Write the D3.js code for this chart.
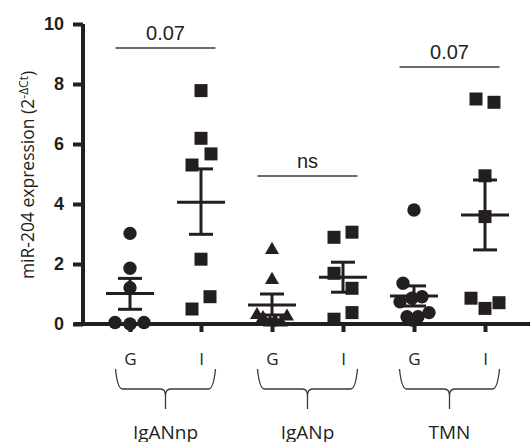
<!DOCTYPE html>
<html>
<head>
<meta charset="utf-8">
<script src="https://cdn.jsdelivr.net/npm/d3@7"></script>
<style>
    body { margin: 0; background: #fff; }
    svg { display: block; }
    .y-axis text { font-family: "Liberation Sans", Arial, sans-serif; font-weight: bold; font-size: 18px; fill: #231f20; }
    .x-axis text { font-family: "Open Sans", sans-serif; font-size: 17px; fill: #231f20; }
    .group-label { font-family: "Open Sans", sans-serif; font-size: 19px; fill: #231f20; }
    .sig-text { font-family: "Liberation Sans", Arial, sans-serif; font-size: 20px; fill: #231f20; }
    .y-label { font-family: "Open Sans", sans-serif; font-size: 17.5px; fill: #231f20; }
</style>
</head>
<body>
<div id="chart"></div>
<script>
// categories on the x axis (group, condition)
const groups = ["IgANnp", "IgANp", "TMN"];
const conditions = ["G", "I"];
const categoryKeys = ["IgANnp-G", "IgANnp-I", "IgANp-G", "IgANp-I", "TMN-G", "TMN-I"];
const categoryShapes = ["circle", "square", "triangle", "square", "circle", "square"];

// individual values (2^-dCt)
const igannpG = [3.02, 1.86, 1.21, 0.05, 0.0, 0.05];
const igannpI = [7.78, 6.19, 5.67, 5.30, 2.16, 0.91, 0.50];
const iganpG = [2.47, 1.47, 0.30, 0.20, 0.05, 0.10, 0.05, 0.25];
const iganpI = [2.89, 3.06, 1.69, 1.19, 0.38, 0.16];
const tmnG = [3.80, 1.36, 0.74, 0.86, 0.91, 0.24, 0.24, 0.38, 0.13];
const tmnI = [7.50, 7.39, 4.94, 3.58, 0.86, 0.52, 0.71];
const pointValues = [igannpG, igannpI, iganpG, iganpI, tmnG, tmnI];

// horizontal scatter of the dots (px), so that overlapping points stay visible
const jitter = [
    [0, 0, 0, -15, 0, 14],
    [0, 0, 10, -9, 0, 9, -9],
    [0, 0, -15, -9, -2, 3, 9, 15],
    [-9, 9, -9, 9, 9, -9],
    [0, -11, -14, -2, 8, -7, 4, 15, -2],
    [-9, 9, 0, 0, -14, 0, 14]
];

// mean and SEM bars
const means = [1.02, 4.06, 0.63, 1.56, 0.93, 3.63];
const semLow = [0.49, 2.99, 0.30, 1.06, 0.60, 2.47];
const semHigh = [1.52, 5.17, 1.00, 2.06, 1.27, 4.80];

// significance annotations, one per group
const sigLabels = ["0.07", "ns", "0.07"];
const sigLevels = [9.2, 4.93, 8.57];

const yTicks = [0, 2, 4, 6, 8, 10];

const width = 530, height = 442;
const ink = "#231f20";

let svg = d3.select("#chart").append("svg").attr("width", width).attr("height", height);

let x = d3.scalePoint().domain(categoryKeys).range([130, 485]);
let y = d3.scaleLinear().domain([0, 10]).range([324, 24]);

// y axis
let yAxis = svg.append("g").attr("class", "y-axis").attr("transform", "translate(83,0)")
    .call(d3.axisLeft(y).tickValues(yTicks).tickSize(10).tickPadding(9).tickSizeOuter(0));
yAxis.select(".domain").attr("stroke", ink).attr("stroke-width", 4).attr("d", "M0," + y(10) + "V" + (y(0) + 2));
yAxis.selectAll(".tick line").attr("stroke", ink).attr("stroke-width", 4);

// x axis
let xAxis = svg.append("g").attr("class", "x-axis").attr("transform", "translate(0," + y(0) + ")")
    .call(d3.axisBottom(x).tickSize(8).tickPadding(21).tickFormat((d, i) => conditions[i % 2]));
xAxis.select(".domain").attr("stroke", ink).attr("stroke-width", 4).attr("d", "M74,0H" + width);
xAxis.selectAll(".tick line").attr("stroke", ink).attr("stroke-width", 4);

// y label
svg.append("text").attr("class", "y-label")
    .attr("transform", "translate(34," + 175 + ") rotate(-90)")
    .attr("text-anchor", "middle")
    .call(t => {
        t.append("tspan").text("miR-204 expression (2");
        t.append("tspan").attr("dy", -6).attr("font-size", "12px").text("-\u0394Ct");
        t.append("tspan").attr("dy", 6).text(")");
    });

// mean +/- SEM
categoryKeys.forEach((key, i) => {
    let cx = x(key);
    let g = svg.append("g").attr("stroke", ink).attr("stroke-width", 3);
    g.append("line").attr("x1", cx).attr("x2", cx).attr("y1", y(semLow[i])).attr("y2", y(semHigh[i]));
    g.append("line").attr("x1", cx - 24).attr("x2", cx + 24).attr("y1", y(means[i])).attr("y2", y(means[i]));
    g.append("line").attr("x1", cx - 12).attr("x2", cx + 12).attr("y1", y(semLow[i])).attr("y2", y(semLow[i]));
    g.append("line").attr("x1", cx - 12).attr("x2", cx + 12).attr("y1", y(semHigh[i])).attr("y2", y(semHigh[i]));
});

// data points
const symbolTypes = { circle: d3.symbolCircle, square: d3.symbolSquare, triangle: d3.symbolTriangle };
const symbolSizes = { circle: 140, square: 169, triangle: 85 };
categoryKeys.forEach((key, i) => {
    let pts = pointValues[i].map((v, j) => ({ v: v, dx: jitter[i][j] }));
    svg.append("g").selectAll("path").data(pts).join("path")
        .attr("d", d3.symbol().type(symbolTypes[categoryShapes[i]]).size(symbolSizes[categoryShapes[i]]))
        .attr("transform", d => "translate(" + (x(key) + d.dx) + "," + y(d.v) + ")")
        .attr("fill", ink);
});

// significance bars, braces and group labels
groups.forEach((grp, i) => {
    let cx = (x(categoryKeys[2 * i]) + x(categoryKeys[2 * i + 1])) / 2;
    let sy = y(sigLevels[i]);
    svg.append("line").attr("x1", cx - 50).attr("x2", cx + 50).attr("y1", sy).attr("y2", sy)
        .attr("stroke", "#3a3a3a").attr("stroke-width", 1.5);
    svg.append("text").attr("class", "sig-text").attr("x", cx).attr("y", sy - 8)
        .attr("text-anchor", "middle").text(sigLabels[i]);

    let x0 = cx - 50, x1 = cx + 50, y0 = 369, y1 = 389, y2 = 409;
    let p = "M" + x0 + "," + y0 + " Q" + (x0 + 2) + "," + y1 + " " + (x0 + 7) + "," + y1 +
        " L" + (cx - 5) + "," + y1 + " Q" + cx + "," + y1 + " " + cx + "," + (y1 + 7) + " L" + cx + "," + y2 +
        " M" + cx + "," + (y1 + 7) + " Q" + cx + "," + y1 + " " + (cx + 5) + "," + y1 +
        " L" + (x1 - 7) + "," + y1 + " Q" + (x1 - 2) + "," + y1 + " " + x1 + "," + y0;
    svg.append("path").attr("d", p).attr("fill", "none").attr("stroke", "#3a3a3a").attr("stroke-width", 1.3);

    svg.append("text").attr("class", "group-label").attr("x", cx).attr("y", 439)
        .attr("text-anchor", "middle").text(grp);
});
</script>
</body>
</html>
